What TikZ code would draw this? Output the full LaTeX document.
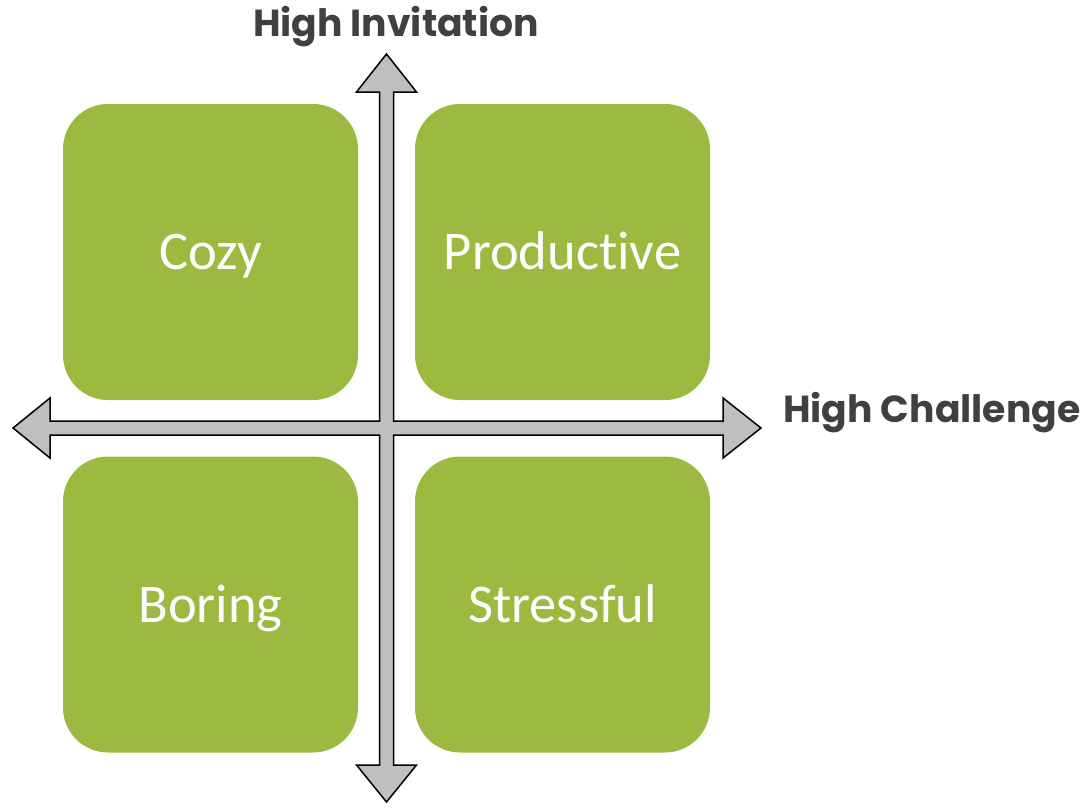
\documentclass[tikz,border=0pt]{standalone}
\usepackage{fontspec}
\setmainfont{Carlito}[Ligatures=NoCommon]
\newfontfamily\labelfont{Poppins}
\usetikzlibrary{positioning}
\definecolor{quadgreen}{HTML}{9BBA3F}
\definecolor{axisgray}{HTML}{BFBFBF}
\definecolor{labelgray}{HTML}{404040}
\tikzset{quadrant/.style={fill=quadgreen, rounded corners=45pt, minimum width=295pt, minimum height=296pt, inner sep=0pt, text height=35pt, text depth=0pt, text=white, font=\fontsize{54.5}{54.5}\selectfont},
axislabel/.style={text=labelgray, inner sep=0pt, font=\labelfont\bfseries\fontsize{37.7}{37.7}\selectfont}}

\begin{document}
\begin{tikzpicture}[x=1pt,y=-1pt]
\useasboundingbox (0,0) rectangle (1090,809);

\node[quadrant] (cozy) at (210.5,252) {Cozy};
\node[quadrant] (productive) at (562.5,252) {Productive};
\node[quadrant] (boring) at (210.5,604.5) {Boring};
\node[quadrant] (stressful) at (562.5,604.5) {Stressful};

% the two axes as one outline
\draw[fill=axisgray, line width=1.5pt, line join=miter] (386.5,54) -- (416.5,92) -- (393.5,92) -- (393.5,421)
  -- (723,421) -- (723,398) -- (761,428) -- (723,458) -- (723,435)
  -- (393.5,435) -- (393.5,765) -- (416.5,765) -- (386.5,802) -- (356.5,765) -- (379.5,765)
  -- (379.5,435) -- (50,435) -- (50,458) -- (13,428) -- (50,398) -- (50,421)
  -- (379.5,421) -- (379.5,92) -- (356.5,92) -- cycle;

\node[axislabel, anchor=base] (invitation) at (396,36) {High Invitation};
\node[axislabel, anchor=base west] (challenge) at (783,422) {High Challenge};

\end{tikzpicture}
\end{document}
